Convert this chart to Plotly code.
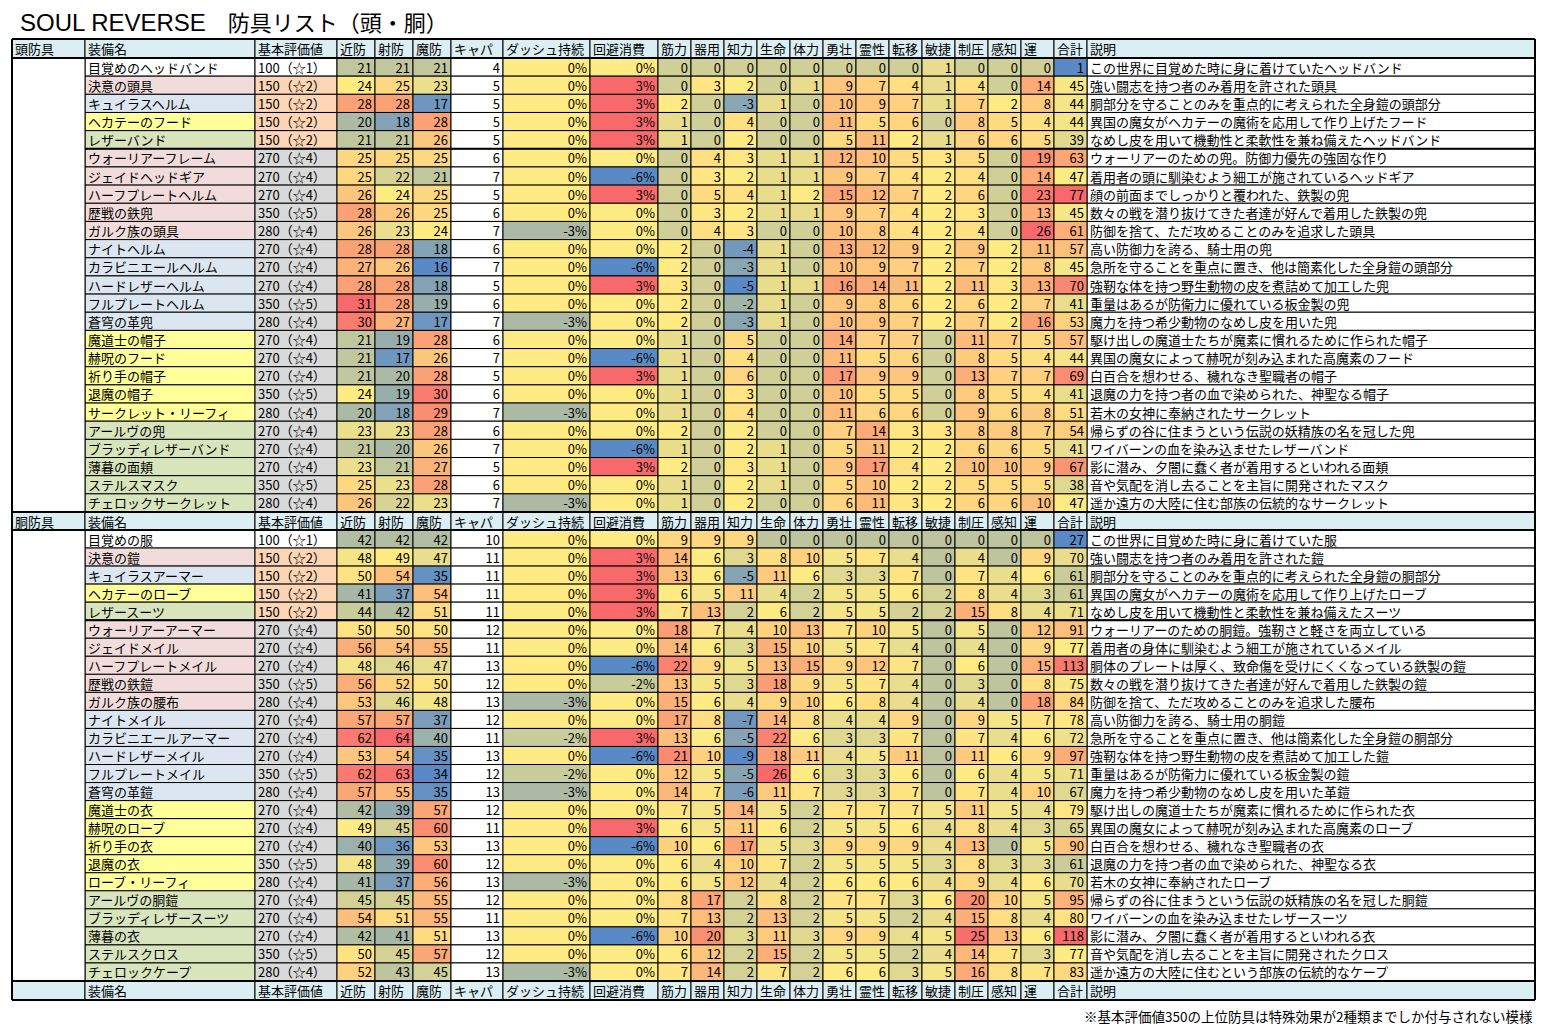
import numpy as np
import plotly.graph_objects as go

# column labels
COLUMNS = ["頭防具", "装備名", "基本評価値", "近防", "射防", "魔防", "キャパ", "ダッシュ持続", "回避消費",
           "筋力", "器用", "知力", "生命", "体力", "勇壮", "霊性", "転移", "敏捷", "制圧", "感知", "運",
           "合計", "説明"]

# ---- head armour ----
head_names = ["目覚めのヘッドバンド", "決意の頭具", "キュイラスヘルム", "ヘカテーのフード", "レザーバンド",
              "ウォーリアーフレーム", "ジェイドヘッドギア", "ハーフプレートヘルム", "歴戦の鉄兜", "ガルク族の頭具",
              "ナイトヘルム", "カラビニエールヘルム", "ハードレザーヘルム", "フルプレートヘルム", "蒼穹の革兜",
              "魔道士の帽子", "赫呪のフード", "祈り手の帽子", "退魔の帽子", "サークレット・リーフィ",
              "アールヴの兜", "ブラッディレザーバンド", "薄暮の面頬", "ステルスマスク", "チェロックサークレット"]
head_type = ["none", "red", "blue", "yellow", "green",
             "red", "red", "red", "red", "red",
             "blue", "blue", "blue", "blue", "blue",
             "yellow", "yellow", "yellow", "yellow", "yellow",
             "green", "green", "green", "green", "green"]
head_base = [100, 150, 150, 150, 150, 270, 270, 270, 350, 280, 270, 270, 270, 350, 280,
             270, 270, 270, 350, 280, 270, 270, 270, 350, 280]
head_rank = [1, 2, 2, 2, 2, 4, 4, 4, 5, 4, 4, 4, 4, 5, 4, 4, 4, 4, 5, 4, 4, 4, 4, 5, 4]
head_melee = [21, 24, 28, 20, 21, 25, 25, 26, 28, 26, 28, 27, 28, 31, 30, 21, 21, 21, 24, 20, 23, 21, 23, 25, 26]
head_ranged = [21, 25, 28, 18, 21, 25, 22, 24, 26, 23, 28, 26, 28, 28, 27, 19, 17, 20, 19, 18, 23, 20, 21, 23, 22]
head_magic = [21, 23, 17, 28, 26, 25, 21, 25, 25, 24, 18, 16, 18, 19, 17, 28, 26, 28, 30, 29, 28, 26, 27, 28, 23]
head_capa = [4, 5, 5, 5, 5, 6, 7, 5, 6, 7, 6, 7, 5, 6, 7, 6, 7, 5, 6, 7, 6, 7, 5, 6, 7]
head_dash = [0, 0, 0, 0, 0, 0, 0, 0, 0, -3, 0, 0, 0, 0, -3, 0, 0, 0, 0, -3, 0, 0, 0, 0, -3]
head_evade = [0, 3, 3, 3, 3, 0, -6, 3, 0, 0, 0, -6, 3, 0, 0, 0, -6, 3, 0, 0, 0, -6, 3, 0, 0]
# 筋力 器用 知力 生命 体力 勇壮 霊性 転移 敏捷 制圧 感知 運
head_stats = [
    [0, 0, 0, 0, 0, 0, 0, 0, 1, 0, 0, 0],
    [0, 3, 2, 0, 1, 9, 7, 4, 1, 4, 0, 14],
    [2, 0, -3, 1, 0, 10, 9, 7, 1, 7, 2, 8],
    [1, 0, 4, 0, 0, 11, 5, 6, 0, 8, 5, 4],
    [1, 0, 2, 0, 0, 5, 11, 2, 1, 6, 6, 5],
    [0, 4, 3, 1, 1, 12, 10, 5, 3, 5, 0, 19],
    [0, 3, 2, 1, 1, 9, 7, 4, 2, 4, 0, 14],
    [0, 5, 4, 1, 2, 15, 12, 7, 2, 6, 0, 23],
    [0, 3, 2, 1, 1, 9, 7, 4, 2, 3, 0, 13],
    [0, 4, 3, 0, 0, 10, 8, 4, 2, 4, 0, 26],
    [2, 0, -4, 1, 0, 13, 12, 9, 2, 9, 2, 11],
    [2, 0, -3, 1, 0, 10, 9, 7, 2, 7, 2, 8],
    [3, 0, -5, 1, 1, 16, 14, 11, 2, 11, 3, 13],
    [2, 0, -2, 1, 0, 9, 8, 6, 2, 6, 2, 7],
    [2, 0, -3, 1, 0, 10, 9, 7, 2, 7, 2, 16],
    [1, 0, 5, 0, 0, 14, 7, 7, 0, 11, 7, 5],
    [1, 0, 4, 0, 0, 11, 5, 6, 0, 8, 5, 4],
    [1, 0, 6, 0, 0, 17, 9, 9, 0, 13, 7, 7],
    [1, 0, 3, 0, 0, 10, 5, 5, 0, 8, 5, 4],
    [1, 0, 4, 0, 0, 11, 6, 6, 0, 9, 6, 8],
    [2, 0, 2, 0, 0, 7, 14, 3, 3, 8, 8, 7],
    [1, 0, 2, 1, 0, 5, 11, 2, 2, 6, 6, 5],
    [2, 0, 3, 1, 0, 9, 17, 4, 2, 10, 10, 9],
    [1, 0, 2, 1, 0, 5, 10, 2, 2, 5, 5, 5],
    [1, 0, 2, 0, 0, 6, 11, 3, 2, 6, 6, 10],
]
head_total = [1, 45, 44, 44, 39, 63, 47, 77, 45, 61, 57, 45, 70, 41, 53, 57, 44, 69, 41, 51, 54, 41, 67, 38, 47]
head_desc = ["この世界に目覚めた時に身に着けていたヘッドバンド",
             "強い闘志を持つ者のみ着用を許された頭具",
             "胴部分を守ることのみを重点的に考えられた全身鎧の頭部分",
             "異国の魔女がヘカテーの魔術を応用して作り上げたフード",
             "なめし皮を用いて機動性と柔軟性を兼ね備えたヘッドバンド",
             "ウォーリアーのための兜。防御力優先の強固な作り",
             "着用者の頭に馴染むよう細工が施されているヘッドギア",
             "顔の前面までしっかりと覆われた、鉄製の兜",
             "数々の戦を潜り抜けてきた者達が好んで着用した鉄製の兜",
             "防御を捨て、ただ攻めることのみを追求した頭具",
             "高い防御力を誇る、騎士用の兜",
             "急所を守ることを重点に置き、他は簡素化した全身鎧の頭部分",
             "強靭な体を持つ野生動物の皮を煮詰めて加工した兜",
             "重量はあるが防衛力に優れている板金製の兜",
             "魔力を持つ希少動物のなめし皮を用いた兜",
             "駆け出しの魔道士たちが魔素に慣れるために作られた帽子",
             "異国の魔女によって赫呪が刻み込まれた高魔素のフード",
             "白百合を想わせる、穢れなき聖職者の帽子",
             "退魔の力を持つ者の血で染められた、神聖なる帽子",
             "若木の女神に奉納されたサークレット",
             "帰らずの谷に住まうという伝説の妖精族の名を冠した兜",
             "ワイバーンの血を染み込ませたレザーバンド",
             "影に潜み、夕闇に蠢く者が着用するといわれる面頬",
             "音や気配を消し去ることを主旨に開発されたマスク",
             "遥か遠方の大陸に住む部族の伝統的なサークレット"]

# ---- body armour ----
body_names = ["目覚めの服", "決意の鎧", "キュイラスアーマー", "ヘカテーのローブ", "レザースーツ",
              "ウォーリアーアーマー", "ジェイドメイル", "ハーフプレートメイル", "歴戦の鉄鎧", "ガルク族の腰布",
              "ナイトメイル", "カラビニエールアーマー", "ハードレザーメイル", "フルプレートメイル", "蒼穹の革鎧",
              "魔道士の衣", "赫呪のローブ", "祈り手の衣", "退魔の衣", "ローブ・リーフィ",
              "アールヴの胴鎧", "ブラッディレザースーツ", "薄暮の衣", "ステルスクロス", "チェロックケープ"]
body_type = head_type
body_base = head_base
body_rank = head_rank
body_melee = [42, 48, 50, 41, 44, 50, 56, 48, 56, 53, 57, 62, 53, 62, 57, 42, 49, 40, 48, 41, 45, 54, 42, 50, 52]
body_ranged = [42, 49, 54, 37, 42, 50, 54, 46, 52, 46, 57, 64, 54, 63, 55, 39, 45, 36, 39, 37, 45, 51, 41, 45, 43]
body_magic = [42, 47, 35, 54, 51, 50, 55, 47, 50, 48, 37, 40, 35, 34, 35, 57, 60, 53, 60, 56, 55, 55, 51, 57, 45]
body_capa = [10, 11, 11, 11, 11, 12, 11, 13, 12, 13, 12, 11, 13, 12, 13, 12, 11, 13, 12, 13, 12, 11, 13, 12, 13]
body_dash = [0, 0, 0, 0, 0, 0, 0, 0, 0, -3, 0, -2, 0, -2, -3, 0, 0, 0, 0, -3, 0, 0, 0, 0, -3]
body_evade = [0, 3, 3, 3, 3, 0, 0, -6, -2, 0, 0, 3, -6, 0, 0, 0, 3, -6, 0, 0, 0, 0, -6, 0, 0]
body_stats = [
    [9, 9, 9, 0, 0, 0, 0, 0, 0, 0, 0, 0],
    [14, 6, 3, 8, 10, 5, 7, 4, 0, 4, 0, 9],
    [13, 6, -5, 11, 6, 3, 3, 7, 0, 7, 4, 6],
    [6, 5, 11, 4, 2, 5, 5, 6, 2, 8, 4, 3],
    [7, 13, 2, 6, 2, 5, 5, 2, 2, 15, 8, 4],
    [18, 7, 4, 10, 13, 7, 10, 5, 0, 5, 0, 12],
    [14, 6, 3, 15, 10, 5, 7, 4, 0, 4, 0, 9],
    [22, 9, 5, 13, 15, 9, 12, 7, 0, 6, 0, 15],
    [13, 5, 3, 18, 9, 5, 7, 4, 0, 3, 0, 8],
    [15, 6, 4, 9, 10, 6, 8, 4, 0, 4, 0, 18],
    [17, 8, -7, 14, 8, 4, 4, 9, 0, 9, 5, 7],
    [13, 6, -5, 22, 6, 3, 3, 7, 0, 7, 4, 6],
    [21, 10, -9, 18, 11, 4, 5, 11, 0, 11, 6, 9],
    [12, 5, -5, 26, 6, 3, 3, 6, 0, 6, 4, 5],
    [14, 7, -6, 11, 7, 3, 3, 7, 0, 7, 4, 10],
    [7, 5, 14, 5, 2, 7, 7, 7, 5, 11, 5, 4],
    [6, 5, 11, 6, 2, 5, 5, 6, 4, 8, 4, 3],
    [10, 6, 17, 5, 3, 9, 9, 9, 4, 13, 0, 5],
    [6, 4, 10, 7, 2, 5, 5, 5, 3, 8, 3, 3],
    [6, 5, 12, 4, 2, 6, 6, 6, 4, 9, 4, 6],
    [8, 17, 2, 8, 2, 7, 7, 3, 6, 20, 10, 5],
    [7, 13, 2, 13, 2, 5, 5, 2, 4, 15, 8, 4],
    [10, 20, 3, 11, 3, 9, 9, 4, 5, 25, 13, 6],
    [6, 12, 2, 15, 2, 5, 5, 2, 4, 14, 7, 3],
    [7, 14, 2, 7, 2, 6, 6, 3, 5, 16, 8, 7],
]
body_total = [27, 70, 61, 61, 71, 91, 77, 113, 75, 84, 78, 72, 97, 71, 67, 79, 65, 90, 61, 70, 95, 80, 118, 77, 83]
body_desc = ["この世界に目覚めた時に身に着けていた服",
             "強い闘志を持つ者のみ着用を許された鎧",
             "胴部分を守ることのみを重点的に考えられた全身鎧の胴部分",
             "異国の魔女がヘカテーの魔術を応用して作り上げたローブ",
             "なめし皮を用いて機動性と柔軟性を兼ね備えたスーツ",
             "ウォーリアーのための胴鎧。強靭さと軽さを両立している",
             "着用者の身体に馴染むよう細工が施されているメイル",
             "胴体のプレートは厚く、致命傷を受けにくくなっている鉄製の鎧",
             "数々の戦を潜り抜けてきた者達が好んで着用した鉄製の鎧",
             "防御を捨て、ただ攻めることのみを追求した腰布",
             "高い防御力を誇る、騎士用の胴鎧",
             "急所を守ることを重点に置き、他は簡素化した全身鎧の胴部分",
             "強靭な体を持つ野生動物の皮を煮詰めて加工した鎧",
             "重量はあるが防衛力に優れている板金製の鎧",
             "魔力を持つ希少動物のなめし皮を用いた革鎧",
             "駆け出しの魔道士たちが魔素に慣れるために作られた衣",
             "異国の魔女によって赫呪が刻み込まれた高魔素のローブ",
             "白百合を想わせる、穢れなき聖職者の衣",
             "退魔の力を持つ者の血で染められた、神聖なる衣",
             "若木の女神に奉納されたローブ",
             "帰らずの谷に住まうという伝説の妖精族の名を冠した胴鎧",
             "ワイバーンの血を染み込ませたレザースーツ",
             "影に潜み、夕闇に蠢く者が着用するといわれる衣",
             "音や気配を消し去ることを主旨に開発されたクロス",
             "遥か遠方の大陸に住むという部族の伝統的なケープ"]

TITLE_EN = "SOUL REVERSE"
TITLE_JA = "防具リスト（頭・胴）"
NOTE = "※基本評価値350の上位防具は特殊効果が2種類までしか付与されない模様"

# ---- styling / sheet geometry (page pixels) ----
FONT = "Noto Sans CJK JP"
HEAD_FILL = "#DAEEF3"
TYPE_FILL = {"none": "white", "red": "#F2DCDB", "blue": "#DCE6F1", "yellow": "#FFFF99", "green": "#D8E4BC"}
RANK_FILL = {1: "white", 2: "#FCD5B4", 4: "#D9D9D9", 5: "#D9D9D9"}
LOW, MID, HIGH = (90, 138, 198), (255, 235, 132), (248, 105, 107)
COL_EDGES = [12, 85, 255, 337, 375, 413, 451, 503, 590] + [658 + 33 * k for k in range(13)] + [1087, 1535]
ROW_H = [19] + [18.16] * 25 + [18] + [18.04] * 25 + [19]
TOP = 39
OFF = 8          # page body margin
W, H = 1547, 1026
RIGHT_NUM = set(range(3, 22))   # right aligned (numeric) columns


def color_scale(values):
    """Excel style 3-colour scale (min / 50th percentile / max)."""
    arr = np.asarray(values, dtype=float)
    lo, mid, hi = arr.min(), np.percentile(arr, 50), arr.max()

    def mix(a, b, t):
        return "rgb(%d,%d,%d)" % tuple(round(a[i] + (b[i] - a[i]) * t) for i in range(3))

    def f(v):
        if v <= mid:
            t = 1.0 if mid == lo else (v - lo) / (mid - lo)
            return mix(LOW, MID, t)
        t = 0.0 if hi == mid else (v - mid) / (hi - mid)
        return mix(MID, HIGH, t)
    return f


def section_rows(names, types, base, rank, melee, ranged, magic, capa, dash, evade, stats, total, desc):
    f_def = color_scale(melee + ranged + magic)
    f_pct = color_scale(dash + evade)
    f_stat = color_scale([v for r in stats for v in r])
    f_tot = color_scale(total)
    rows, fills = [], []
    for i in range(len(names)):
        rows.append([""] + [names[i], f"{base[i]}（☆{rank[i]}）", str(melee[i]), str(ranged[i]), str(magic[i]),
                            str(capa[i]), f"{dash[i]}%", f"{evade[i]}%"]
                    + [str(v) for v in stats[i]] + [str(total[i]), desc[i]])
        fills.append(["white", TYPE_FILL[types[i]], RANK_FILL[rank[i]],
                      f_def(melee[i]), f_def(ranged[i]), f_def(magic[i]), "white",
                      f_pct(dash[i]), f_pct(evade[i])]
                     + [f_stat(v) for v in stats[i]] + [f_tot(total[i]), "white"])
    return rows, fills


head_rows, head_fills = section_rows(head_names, head_type, head_base, head_rank, head_melee, head_ranged,
                                     head_magic, head_capa, head_dash, head_evade, head_stats, head_total, head_desc)
body_rows, body_fills = section_rows(body_names, body_type, body_base, body_rank, body_melee, body_ranged,
                                     body_magic, body_capa, body_dash, body_evade, body_stats, body_total, body_desc)

ncol = len(COLUMNS)
rows = [COLUMNS] + head_rows + [["胴防具"] + COLUMNS[1:]] + body_rows + [[""] + COLUMNS[1:]]
fills = [[HEAD_FILL] * ncol] + head_fills + [[HEAD_FILL] * ncol] + body_fills + [[HEAD_FILL] * ncol]
n1 = len(head_rows)
header_idx = {0, n1 + 1, len(rows) - 1}

row_edges = list(np.cumsum([TOP] + ROW_H))

# collect cells: (left, width, top, height, text, fill)
cells = {"start": [], "end": []}
for r, (vals, cols) in enumerate(zip(rows, fills)):
    for c in range(ncol):
        if c == 0 and r not in header_idx:
            continue   # merged block, drawn below
        anchor = "end" if (c in RIGHT_NUM and r not in header_idx) else "start"
        cells[anchor].append((COL_EDGES[c], COL_EDGES[c + 1] - COL_EDGES[c],
                              row_edges[r], row_edges[r + 1] - row_edges[r], vals[c], cols[c]))
# merged first-column blocks for the two sections
for r0, r1 in ((1, n1 + 1), (n1 + 2, len(rows) - 1)):
    cells["start"].append((COL_EDGES[0], COL_EDGES[1] - COL_EDGES[0],
                           row_edges[r0], row_edges[r1] - row_edges[r0], "", "white"))

fig = go.Figure()
for anchor, lst in cells.items():
    fig.add_trace(go.Bar(
        orientation="h",
        base=[c[0] for c in lst], x=[c[1] for c in lst],
        y=[c[2] + c[3] / 2 for c in lst], width=[c[3] for c in lst],
        text=[c[4] for c in lst],
        marker=dict(color=[c[5] for c in lst], line=dict(color="black", width=1)),
        textposition="inside", insidetextanchor=anchor, constraintext="none", textangle=0,
        insidetextfont=dict(family=FONT, size=13, color="black"),
        hoverinfo="skip", showlegend=False, cliponaxis=False,
    ))

# thicker rules: around header rows, between rank groups, outer frame
x_l, x_r, x_name = COL_EDGES[0], COL_EDGES[-1], COL_EDGES[1]
for e in (0, 1, n1 + 1, n1 + 2, len(rows) - 1, len(rows)):
    fig.add_shape(type="line", xref="x", yref="y", x0=x_l, x1=x_r, y0=row_edges[e], y1=row_edges[e],
                  line=dict(color="black", width=2))
for e in (1 + 5, n1 + 2 + 5):
    fig.add_shape(type="line", xref="x", yref="y", x0=x_name, x1=x_r, y0=row_edges[e], y1=row_edges[e],
                  line=dict(color="black", width=2))
for xx in (x_l, x_r):
    fig.add_shape(type="line", xref="x", yref="y", x0=xx, x1=xx, y0=row_edges[0], y1=row_edges[-1],
                  line=dict(color="black", width=2))

title = f"<span style='font-family:Liberation Sans;font-size:24px'>{TITLE_EN}</span>　{TITLE_JA}"
fig.add_annotation(text=title, xref="x", yref="y", x=18, y=21, xanchor="left", yanchor="middle",
                   showarrow=False, font=dict(family=FONT, size=22, color="black"))
fig.add_annotation(text=NOTE, xref="x", yref="y", x=1535, y=1016, xanchor="right", yanchor="middle",
                   showarrow=False, font=dict(family=FONT, size=13.5, color="black"))

fig.update_layout(
    width=W - OFF, height=H - OFF, margin=dict(l=0, r=0, t=0, b=0),
    paper_bgcolor="white", plot_bgcolor="white", barmode="overlay",
    xaxis=dict(range=[OFF, W], visible=False, fixedrange=True),
    yaxis=dict(range=[H, OFF], visible=False, fixedrange=True),
)

fig.write_html("out.html")
